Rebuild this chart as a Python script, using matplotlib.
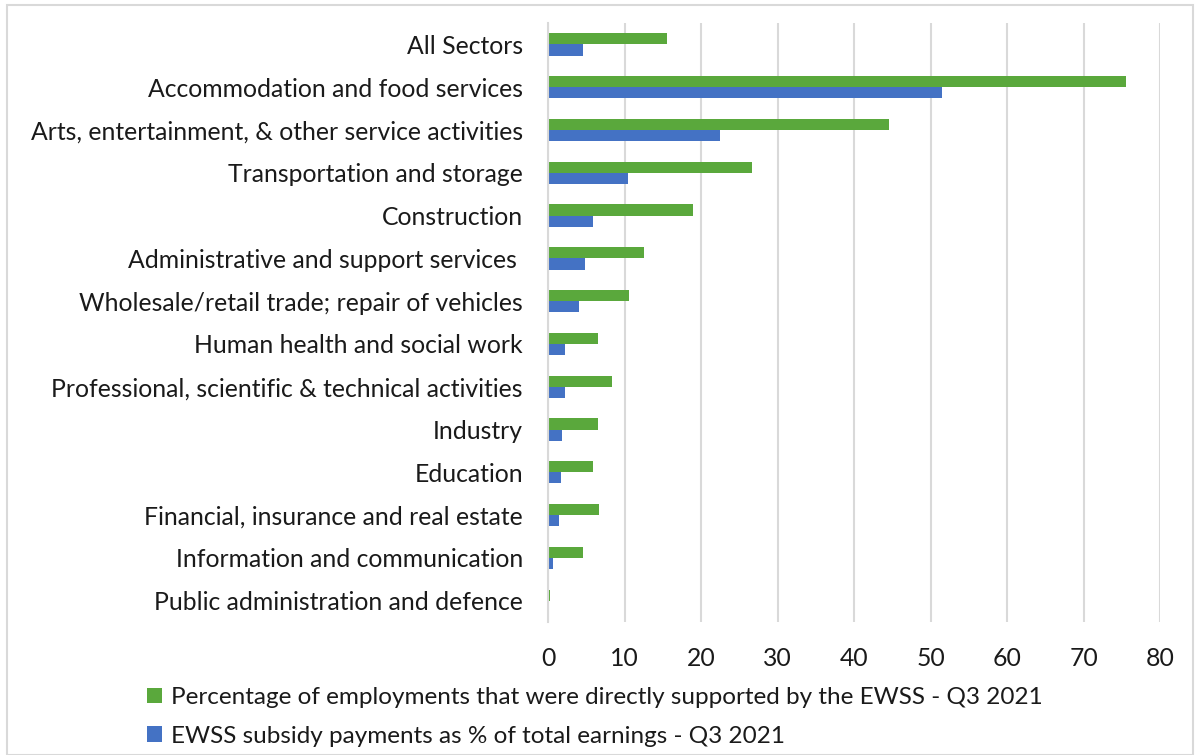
import matplotlib.pyplot as plt
from matplotlib.patches import Rectangle
import numpy as np

plt.rcParams["font.family"] = ["Lato", "DejaVu Sans"]

sectors = [
    "All Sectors",
    "Accommodation and food services",
    "Arts, entertainment, & other service activities",
    "Transportation and storage",
    "Construction",
    "Administrative and support services ",
    "Wholesale/retail trade; repair of vehicles",
    "Human health and social work",
    "Professional, scientific & technical activities",
    "Industry",
    "Education",
    "Financial, insurance and real estate",
    "Information and communication",
    "Public administration and defence",
]
employment_pct = [15.6, 75.5, 44.6, 26.6, 18.9, 12.5, 10.6, 6.5, 8.4, 6.5, 5.85, 6.6, 4.6, 0.3]
subsidy_pct = [4.6, 51.5, 22.5, 10.4, 5.9, 4.9, 4.0, 2.2, 2.2, 1.8, 1.7, 1.5, 0.7, 0.0]

label_green = "Percentage of employments that were directly supported by the EWSS - Q3 2021"
label_blue = "EWSS subsidy payments as % of total earnings - Q3 2021"

GREEN = "#5aa83c"
BLUE = "#4472c4"
TEXT = "#1a1a1a"

fig = plt.figure(figsize=(11.97, 7.55), dpi=100)
ax = fig.add_axes([0.4578, 0.176, 0.5116, 0.7935])

y = np.arange(len(sectors))
h = 0.26
ax.barh(y - h / 2, employment_pct, height=h, color=GREEN, label=label_green, zorder=3)
ax.barh(y + h / 2, subsidy_pct, height=h, color=BLUE, label=label_blue, zorder=3)

ax.set_ylim(len(sectors) - 0.5, -0.5)
ax.set_xlim(0, 80)
ax.set_xticks(range(0, 81, 10))
ax.set_yticks(y)
ax.set_yticklabels(sectors)
ax.tick_params(axis="both", length=0, labelsize=17.8, colors=TEXT)
ax.tick_params(axis="y", pad=18)
ax.tick_params(axis="x", pad=18)
ax.grid(axis="x", color="#d9d9d9", linewidth=1.5, zorder=0)
for s in ["top", "right", "bottom"]:
    ax.spines[s].set_visible(False)
ax.spines["left"].set_color("#d9d9d9")
ax.spines["left"].set_linewidth(1.5)
ax.spines["left"].set_zorder(4)

fig.legend(loc="upper left", bbox_to_anchor=(0.113, 0.106), frameon=False,
           fontsize=17.5, handlelength=0.6, handleheight=0.6, handletextpad=0.35,
           labelspacing=0.72, labelcolor=TEXT, borderpad=0)

fig.patches.append(Rectangle((0.006, 0.0), 0.991, 0.993, transform=fig.transFigure,
                             fill=False, edgecolor="#d9d9d9", linewidth=1.5))

plt.savefig("out.png", dpi=100)
plt.close()
